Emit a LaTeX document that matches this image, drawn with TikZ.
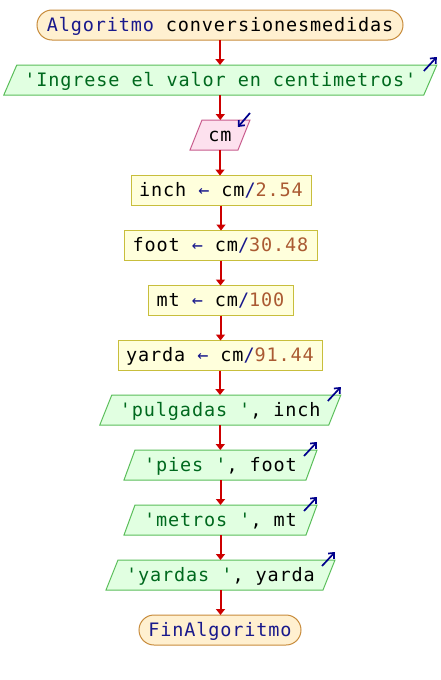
\documentclass[tikz,border=0pt]{standalone}
\usepackage{fontspec}
\newfontfamily\psmono[LetterSpace=4.7]{DejaVu Sans Mono}
\newcommand\psfont{\psmono\fontsize{18.5}{22}\selectfont\fontdimen2\font=12pt\fontdimen3\font=0pt\fontdimen4\font=0pt}
\usetikzlibrary{arrows.meta,backgrounds,calc}
\definecolor{kw}{RGB}{25,25,140}
\definecolor{strc}{RGB}{0,105,30}
\definecolor{numc}{RGB}{170,90,50}
\definecolor{startfill}{RGB}{255,240,208}
\definecolor{startdraw}{RGB}{200,140,60}
\definecolor{outfill}{RGB}{225,255,225}
\definecolor{outdraw}{RGB}{90,190,90}
\definecolor{infill}{RGB}{253,225,238}
\definecolor{indraw}{RGB}{200,90,140}
\definecolor{procfill}{RGB}{255,255,220}
\definecolor{procdraw}{RGB}{200,190,60}
\definecolor{flowc}{RGB}{205,0,0}
\definecolor{iconc}{RGB}{0,0,140}
\tikzset{
  txt/.style={font=\psfont, inner sep=0pt, outer sep=0pt, minimum height=30pt, text height=16pt, text depth=4pt},
  termbox/.style={txt, draw=startdraw, fill=startfill, line width=1pt, rounded corners=15pt},
  procbox/.style={txt, draw=procdraw, fill=procfill, line width=1pt},
  outshape/.style={draw=outdraw, fill=outfill, line width=1pt},
  inshape/.style={draw=indraw, fill=infill, line width=1pt},
  flow/.style={draw=flowc, line width=2pt, -{Triangle[length=6pt,width=9pt]}},
  icon/.style={draw=iconc, line width=1.7pt, -{Straight Barb[length=4.5pt,width=8pt]}}
}
\begin{document}
\begin{tikzpicture}[x=1pt,y=-1pt]
\useasboundingbox (0,0) rectangle (440,680);

\node[termbox, minimum width=366pt] (start) at (220,25) {{\color{kw}Algoritmo} conversionesmedidas};
\node[txt, minimum width=420pt] (o1) at (220.3,80) {\color{strc}'Ingrese el valor en centimetros'};
\node[txt, minimum width=48pt] (in1) at (220,135) {cm};
\node[procbox, minimum width=180pt] (p1) at (221,190.5) {inch {\color{kw}←} cm{\color{kw}/}{\color{numc}2.54}};
\node[procbox, minimum width=193pt] (p2) at (220.5,245.5) {foot {\color{kw}←} cm{\color{kw}/}{\color{numc}30.48}};
\node[procbox, minimum width=145pt] (p3) at (220.5,300.5) {mt {\color{kw}←} cm{\color{kw}/}{\color{numc}100}};
\node[procbox, minimum width=204pt] (p4) at (220,355.5) {yarda {\color{kw}←} cm{\color{kw}/}{\color{numc}91.44}};
\node[txt, minimum width=229pt] (o2) at (220.3,410) {{\color{strc}'pulgadas '}, inch};
\node[txt, minimum width=182pt] (o3) at (220.5,465) {{\color{strc}'pies '}, foot};
\node[txt, minimum width=182pt] (o4) at (220.5,520) {{\color{strc}'metros '}, mt};
\node[txt, minimum width=217pt] (o5) at (220.5,575) {{\color{strc}'yardas '}, yarda};
\node[termbox, minimum width=162pt] (fin) at (220,630) {\color{kw}FinAlgoritmo};

\begin{scope}[on background layer]
  \fill[white] (0,0) rectangle (440,680);
  \foreach \n/\s in {o1/6.5, o2/6, o3/5.5, o4/5.5, o5/6}{
    \path[outshape] ($(\n.north west)+(\s,0)$) -- ($(\n.north east)+(\s,0)$)
      -- ($(\n.south east)+(-\s,0)$) -- ($(\n.south west)+(-\s,0)$) -- cycle;
  }
  \path[inshape] ($(in1.north west)+(6,0)$) -- ($(in1.north east)+(6,0)$)
      -- ($(in1.south east)+(-6,0)$) -- ($(in1.south west)+(-6,0)$) -- cycle;
\end{scope}

\foreach \n/\s in {o1/6.5, o2/6, o3/5.5, o4/5.5, o5/6}{
  \draw[icon] ($(\n.north east)+(\s-13,6)$) -- ($(\n.north east)+(\s,-8)$);
}
\draw[icon] ($(in1.north east)+(6,-7)$) -- ($(in1.north east)+(-6,7)$);

\foreach \a/\b in {start/o1, o1/in1, in1/p1, p1/p2, p2/p3, p3/p4, p4/o2, o2/o3, o3/o4, o4/o5, o5/fin}{
  \draw[flow] (\a.south) -- (\a.south |- \b.north);
}
\end{tikzpicture}
\end{document}
